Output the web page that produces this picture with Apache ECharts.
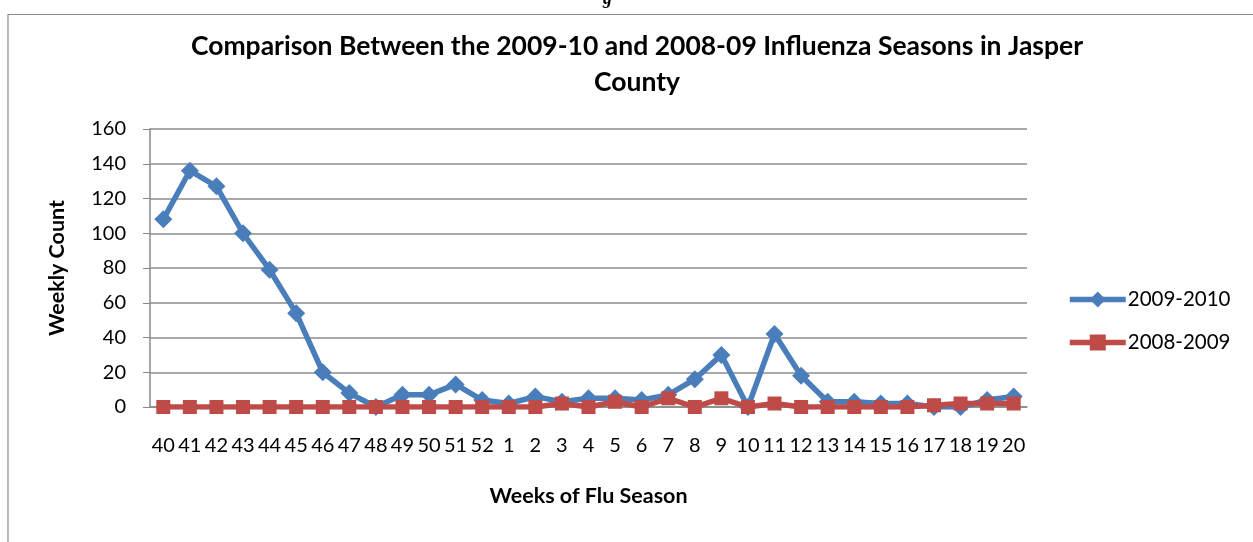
<!DOCTYPE html>
<html><head><meta charset="utf-8">
<script src="https://cdn.jsdelivr.net/npm/echarts@6/dist/echarts.min.js"></script>
<style>html,body{margin:0;padding:0;background:#fff}#c{width:1253px;height:542px}</style>
</head><body><div id="c"></div>
<script>
const weeks = ['40','41','42','43','44','45','46','47','48','49','50','51','52','1','2','3','4','5','6','7','8','9','10','11','12','13','14','15','16','17','18','19','20'];
const season0910 = [108,136,127,100,79,54,20,8,0,7,7,13,4,2,6,3,5,5,4,7,16,30,0,42,18,3,3,2,2,0,0,4,6];
const season0809 = [0,0,0,0,0,0,0,0,0,0,0,0,0,0,0,2,0,3,0,5,0,5,0,2,0,0,0,0,0,1,2,2,2];
const yTicks = [0,20,40,60,80,100,120,140,160];

const FONT = 'Lato, "Open Sans", sans-serif';
const chart = echarts.init(document.getElementById('c'));
chart.setOption({
  animation: false,
  textStyle: {fontFamily: FONT},
  title: {
    text: 'Comparison Between the 2009-10 and 2008-09 Influenza Seasons in Jasper\nCounty',
    left: 632, textAlign: 'center', top: 23,
    textStyle: {fontFamily: FONT, fontWeight: 'bold', fontSize: 26.5, color: '#000', lineHeight: 36}
  },
  legend: {
    orient: 'vertical', left: 1062, top: 284, itemGap: 22,
    itemWidth: 56, itemHeight: 20, itemGap2: 0,
    lineStyle: {width: 5.5},
    textStyle: {fontFamily: FONT, fontSize: 20.5, color: '#000', padding: [0, 0, 0, -3]},
    data: ['2009-2010', '2008-2009']
  },
  grid: {left: 150, right: 226, top: 129, bottom: 135, containLabel: false},
  xAxis: {
    type: 'category', data: weeks, boundaryGap: true,
    name: 'Weeks of Flu Season', nameLocation: 'middle', nameGap: 78,
    nameTextStyle: {fontFamily: FONT, fontWeight: 'bold', fontSize: 21.5, color: '#000'},
    axisLine: {lineStyle: {color: '#888', width: 1.5}},
    axisTick: {show: false},
    axisLabel: {interval: 0, fontSize: 20, color: '#000', margin: 29, fontFamily: FONT}
  },
  yAxis: {
    type: 'value', min: 0, max: yTicks[yTicks.length-1], interval: 20,
    name: 'Weekly Count', nameLocation: 'middle', nameGap: 82,
    nameTextStyle: {fontFamily: FONT, fontWeight: 'bold', fontSize: 21.5, color: '#000'},
    axisLine: {show: true, lineStyle: {color: '#888', width: 1.5}},
    axisTick: {show: true, length: 7, lineStyle: {color: '#888'}},
    axisLabel: {fontSize: 20, color: '#000', margin: 24, fontFamily: FONT},
    splitLine: {lineStyle: {color: '#8c8c8c', width: 1.5}}
  },
  series: [
    {name: '2009-2010', type: 'line', data: season0910, symbol: 'diamond', symbolSize: 18,
     itemStyle: {color: '#4a7ebb'}, lineStyle: {color: '#4a7ebb', width: 5.5}, z: 3},
    {name: '2008-2009', type: 'line', data: season0809, symbol: 'rect', symbolSize: 14,
     itemStyle: {color: '#be4b48'}, lineStyle: {color: '#be4b48', width: 5.5}, z: 4}
  ],
  graphic: [
    {type: 'polyline', shape: {points: [[8, 560], [8, 14.5], [1260, 14.5]]},
     style: {stroke: '#8a8a8a', lineWidth: 1.2, fill: null}, silent: true},
    {type: 'text', left: 603, top: -10, style: {text: 'g', font: 'italic bold 18px "Liberation Serif", serif', fill: '#000'}}
  ]
});
</script></body></html>
